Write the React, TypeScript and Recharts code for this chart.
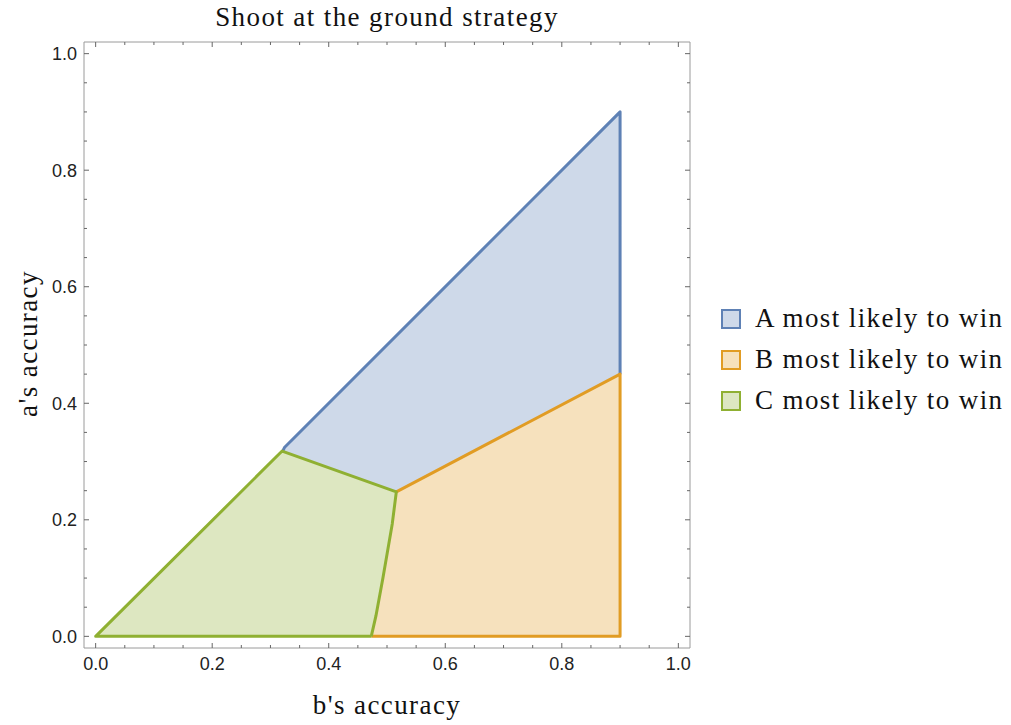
import React from 'react';
import { ComposedChart, Area, Line, XAxis, YAxis } from 'recharts';

const TITLE = 'Shoot at the ground strategy';
const X_LABEL = "b's accuracy";
const Y_LABEL = "a's accuracy";

const MAJOR_TICKS = [0, 0.2, 0.4, 0.6, 0.8, 1.0];
const ALL_TICKS = [
  0, 0.05, 0.1, 0.15, 0.2, 0.25, 0.3, 0.35, 0.4, 0.45, 0.5,
  0.55, 0.6, 0.65, 0.7, 0.75, 0.8, 0.85, 0.9, 0.95, 1.0,
];
const DOMAIN: [number, number] = [-0.02, 1.02];

const A_X = [0.321, 0.516, 0.9];
const A_LOW = [0.318, 0.248, 0.45];
const A_HIGH = [0.321, 0.516, 0.9];

const B_X = [0.473, 0.481, 0.493, 0.509, 0.516, 0.9];
const B_LOW = [0, 0, 0, 0, 0, 0];
const B_HIGH = [0, 0.035, 0.1, 0.193, 0.248, 0.45];

const C_X = [0, 0.32, 0.473, 0.481, 0.493, 0.509, 0.516];
const C_LOW = [0, 0, 0, 0.035, 0.1, 0.193, 0.248];
const C_HIGH = [0, 0.318, 0.263, 0.26, 0.256, 0.25, 0.248];

// Region outlines
const A_EDGE_X = [0.321, 0.324, 0.9, 0.9];
const A_EDGE_Y = [0.318, 0.324, 0.9, 0.45];
const B_EDGE_X = [0.516, 0.9, 0.9, 0.473];
const B_EDGE_Y = [0.248, 0.45, 0, 0];
const C_EDGE_X = [0.473, 0, 0.32, 0.516, 0.509, 0.493, 0.481, 0.473];
const C_EDGE_Y = [0, 0, 0.318, 0.248, 0.193, 0.1, 0.035, 0];

const LEGEND = ['A most likely to win', 'B most likely to win', 'C most likely to win'];

const BLUE = '#5e81b5';
const ORANGE = '#e19c24';
const GREEN = '#8fb032';
const COLORS = [BLUE, ORANGE, GREEN];
const FRAME = '#9a9a9a';
const TICK = '#666';

const rows = (xs: number[], lo: number[], hi: number[]) =>
  xs.map((x, i) => ({ x, range: [lo[i], hi[i]] }));
const pts = (xs: number[], ys: number[]) => xs.map((x, i) => ({ x, y: ys[i] }));

function FrameTick(props: any) {
  const { x, y, payload, side } = props;
  const v = payload.value;
  const major = MAJOR_TICKS.some((m) => Math.abs(m - v) < 1e-6);
  const len = major ? 5 : 3;
  const label = v.toFixed(1);
  const txt = { fontFamily: "'Liberation Sans', Arial, sans-serif", fontSize: 18, fill: '#222' };
  if (side === 'bottom') {
    return (
      <g>
        <line x1={x} y1={y} x2={x} y2={y - len} stroke={TICK} strokeWidth={1} />
        {major && <text x={x} y={y + 22} textAnchor="middle" {...txt}>{label}</text>}
      </g>
    );
  }
  if (side === 'top') {
    return <line x1={x} y1={y} x2={x} y2={y + len} stroke={TICK} strokeWidth={1} />;
  }
  if (side === 'left') {
    return (
      <g>
        <line x1={x} y1={y} x2={x + len} y2={y} stroke={TICK} strokeWidth={1} />
        {major && <text x={x - 7} y={y + 6.5} textAnchor="end" {...txt}>{label}</text>}
      </g>
    );
  }
  return <line x1={x} y1={y} x2={x - len} y2={y} stroke={TICK} strokeWidth={1} />;
}

const serif = "'Liberation Serif', 'Times New Roman', serif";
const bigText: React.CSSProperties = { fontFamily: serif, fontSize: 27, letterSpacing: 1.4, color: '#111', whiteSpace: 'nowrap' };

export default function App() {
  return (
    <div style={{ position: 'absolute', left: 0, top: 0, width: 1011, height: 725, background: '#fff' }}>
      <ComposedChart
        width={1011}
        height={725}
        margin={{ top: 41, left: 83, right: 320, bottom: 76 }}
      >
        <XAxis
          xAxisId="b" dataKey="x" type="number" domain={DOMAIN} ticks={ALL_TICKS}
          interval={0} height={1} tickSize={0} tickMargin={0}
          axisLine={{ stroke: FRAME }} tickLine={false}
          tick={<FrameTick side="bottom" />} allowDataOverflow
        />
        <XAxis
          xAxisId="t" orientation="top" dataKey="x" type="number" domain={DOMAIN} ticks={ALL_TICKS}
          interval={0} height={1} tickSize={0} tickMargin={0}
          axisLine={{ stroke: FRAME }} tickLine={false}
          tick={<FrameTick side="top" />} allowDataOverflow
        />
        <YAxis
          yAxisId="l" type="number" domain={DOMAIN} ticks={ALL_TICKS}
          interval={0} width={1} tickSize={0} tickMargin={0}
          axisLine={{ stroke: FRAME }} tickLine={false}
          tick={<FrameTick side="left" />} allowDataOverflow
        />
        <YAxis
          yAxisId="r" orientation="right" type="number" domain={DOMAIN} ticks={ALL_TICKS}
          interval={0} width={1} tickSize={0} tickMargin={0}
          axisLine={{ stroke: FRAME }} tickLine={false}
          tick={<FrameTick side="right" />} allowDataOverflow
        />

        <Area xAxisId="b" yAxisId="l" data={rows(A_X, A_LOW, A_HIGH)} dataKey="range" type="linear"
          stroke="none" fill={BLUE} fillOpacity={0.3} isAnimationActive={false} activeDot={false} />
        <Area xAxisId="b" yAxisId="l" data={rows(B_X, B_LOW, B_HIGH)} dataKey="range" type="linear"
          stroke="none" fill={ORANGE} fillOpacity={0.3} isAnimationActive={false} activeDot={false} />
        <Area xAxisId="b" yAxisId="l" data={rows(C_X, C_LOW, C_HIGH)} dataKey="range" type="linear"
          stroke="none" fill={GREEN} fillOpacity={0.3} isAnimationActive={false} activeDot={false} />

        <Line xAxisId="b" yAxisId="l" data={pts(A_EDGE_X, A_EDGE_Y)} dataKey="y" type="linear"
          stroke={BLUE} strokeWidth={3} strokeLinejoin="round" dot={false} activeDot={false} isAnimationActive={false} />
        <Line xAxisId="b" yAxisId="l" data={pts(B_EDGE_X, B_EDGE_Y)} dataKey="y" type="linear"
          stroke={ORANGE} strokeWidth={3} strokeLinejoin="round" dot={false} activeDot={false} isAnimationActive={false} />
        <Line xAxisId="b" yAxisId="l" data={pts(C_EDGE_X, C_EDGE_Y)} dataKey="y" type="linear"
          stroke={GREEN} strokeWidth={3} strokeLinejoin="round" dot={false} activeDot={false} isAnimationActive={false} />
      </ComposedChart>

      <div style={{ ...bigText, position: 'absolute', left: 84, width: 606, top: 2, textAlign: 'center' }}>
        {TITLE}
      </div>
      <div style={{ ...bigText, position: 'absolute', left: 84, width: 606, top: 690, textAlign: 'center' }}>
        {X_LABEL}
      </div>
      <div style={{ position: 'absolute', left: 28, top: 345, width: 0, height: 0 }}>
        <div style={{
          ...bigText, position: 'absolute', left: -100, top: -17, width: 200, textAlign: 'center',
          transform: 'rotate(-90deg)',
        }}>
          {Y_LABEL}
        </div>
      </div>

      <div style={{ position: 'absolute', left: 721, top: 298 }}>
        {LEGEND.map((name, i) => (
          <div key={name} style={{ display: 'flex', alignItems: 'center', height: 41 }}>
            <span style={{
              width: 16, height: 16, border: `2px solid ${COLORS[i]}`,
              background: COLORS[i] + '4d', display: 'inline-block', marginRight: 14,
            }} />
            <span style={bigText}>{name}</span>
          </div>
        ))}
      </div>
    </div>
  );
}
